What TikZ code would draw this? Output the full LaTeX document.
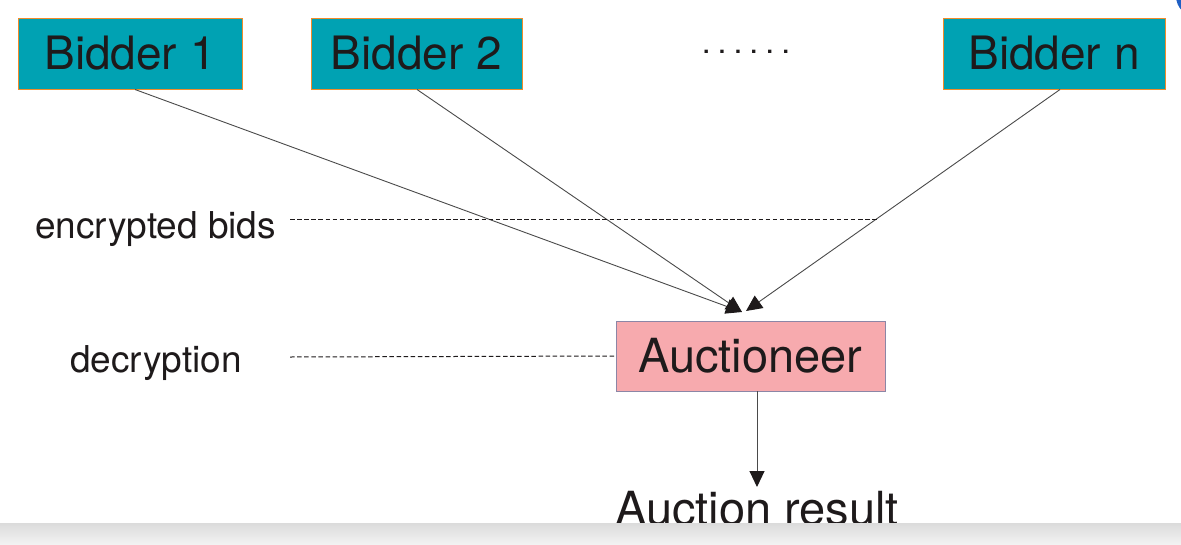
\documentclass[tikz,border=0pt]{standalone}
\usepackage{fontspec}
\setmainfont{TeX Gyre Heros}
\usetikzlibrary{arrows.meta}
\definecolor{teal1}{HTML}{00A2B3}
\definecolor{orng}{HTML}{F08C2A}
\definecolor{pinkf}{HTML}{F7AAAE}
\definecolor{pinkd}{HTML}{8C86A6}
\definecolor{txt}{HTML}{1E1A1B}
\definecolor{lin}{HTML}{4A4A4A}
\definecolor{blu}{HTML}{1F5FC4}
\tikzset{
  bidder/.style={draw=orng, line width=1pt, fill=teal1, text=txt, minimum height=71pt, inner sep=0pt, font=\fontsize{46}{52}\selectfont},
  auct/.style={draw=pinkd, line width=1pt, fill=pinkf, text=txt, minimum width=269pt, minimum height=70pt, inner sep=0pt, font=\fontsize{47}{54}\selectfont},
  lbl/.style={text=txt, inner sep=0pt, anchor=base west, font=\fontsize{37}{42}\selectfont},
  conn/.style={draw=lin, line width=0.9pt, -{Triangle[length=16pt,width=15pt,color=txt,fill=txt,line width=1pt]}, shorten >=0pt},
  guide/.style={draw=txt, line width=1pt, dash pattern=on 4.5pt off 2.6pt}
}
\begin{document}
\begin{tikzpicture}[x=1pt,y=-1pt]
\useasboundingbox (0,0) rectangle (1181,544);
\clip (0,0) rectangle (1181,544);
\fill[white] (0,0) rectangle (1181,544);
\fill[blu] (1197,-4) circle (21);

\node[bidder, minimum width=224pt] (b1) at (130,53.5) {Bidder 1};
\node[bidder, minimum width=211pt] (b2) at (416.5,53.5) {Bidder 2};
\node[bidder, minimum width=222pt] (bn) at (1054,53.5) {Bidder n};
\node[text=txt, inner sep=0pt, font=\fontsize{32}{36}\selectfont] (dots) at (746,52) {.\kern7pt.\kern7pt.\kern7pt.\kern7pt.\kern7pt.};

\node[auct] (auc) at (750.5,356) {Auctioneer};

\node[lbl] (enc) at (35,238) {encrypted bids};
\node[lbl] (dec) at (70,372) {decryption};

\coordinate (tipL) at (742,312);
\coordinate (tipR) at (746,311);
\coordinate (e1) at (290,219);
\coordinate (e2) at (877,219);
\coordinate (d1) at (290,357);

\draw[conn] ([xshift=5pt]b1.south) -- (tipL);
\draw[conn] ([xshift=0.5pt]b2.south) -- (tipL);
\draw[conn] ([xshift=6pt]bn.south) -- (tipR);

\draw[guide] (e1) -- (e2);
\draw[guide] (d1) -- (auc.west);

\coordinate (r0) at (757,391);
\coordinate (rtip) at (757,487);
\draw[conn] (r0) -- (rtip);
\node[text=txt, inner sep=0pt, anchor=base west, font=\fontsize{47}{54}\selectfont] (res) at (615,525) {Auction result};

\shade[top color=black!14, bottom color=black!5] (0,523) rectangle (1181,544);
\end{tikzpicture}
\end{document}
